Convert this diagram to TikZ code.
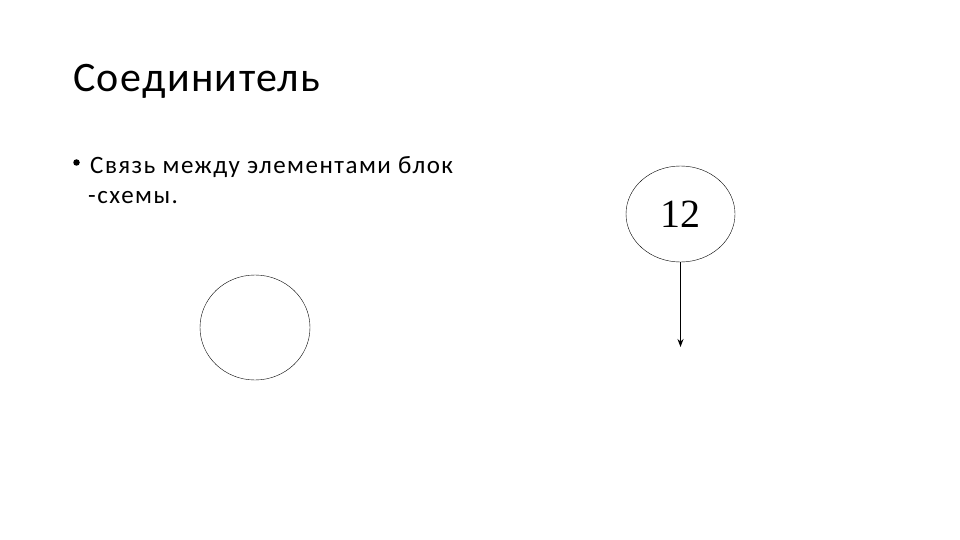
\documentclass[tikz,border=0pt]{standalone}
\usepackage{fontspec}
\setmainfont{Carlito}
\newfontfamily\titlefont[LetterSpace=3.3]{Carlito}
\newfontfamily\bodyfont[LetterSpace=6]{Carlito}
\newfontfamily\numfont{Liberation Serif}
\usetikzlibrary{arrows.meta}
\usetikzlibrary{shapes.geometric}

\tikzset{
  joint/.style={ellipse, draw, thin, inner sep=0pt},
  body/.style={anchor=base west, inner sep=0pt, font=\bodyfont\fontsize{25}{30}\selectfont},
}

\begin{document}
\begin{tikzpicture}[x=1pt,y=-1pt]
\useasboundingbox (0,0) rectangle (960,540);
\node[anchor=base west, inner sep=0pt, font=\titlefont\fontsize{42}{50}\selectfont] (title) at (73,92) {Соединитель};
\node[circle, fill=black, inner sep=0pt, minimum size=6.5pt] (dot) at (76.5,162.5) {};
\node[body] (line1) at (90,174) {Связь между элементами блок};
\node[body] (line2) at (88,204) {-схемы.};

\node[joint, minimum width=110pt, minimum height=105pt] (empty) at (255,327.5) {};
\node[joint, minimum width=109pt, minimum height=96pt, font=\numfont\fontsize{40}{42}\selectfont] (num) at (680.5,214) {12};
\coordinate (end) at (680.5,347);

\draw[line width=1.2pt, -{Stealth[length=8pt,width=6pt]}] (num) -- (end);
\end{tikzpicture}
\end{document}
